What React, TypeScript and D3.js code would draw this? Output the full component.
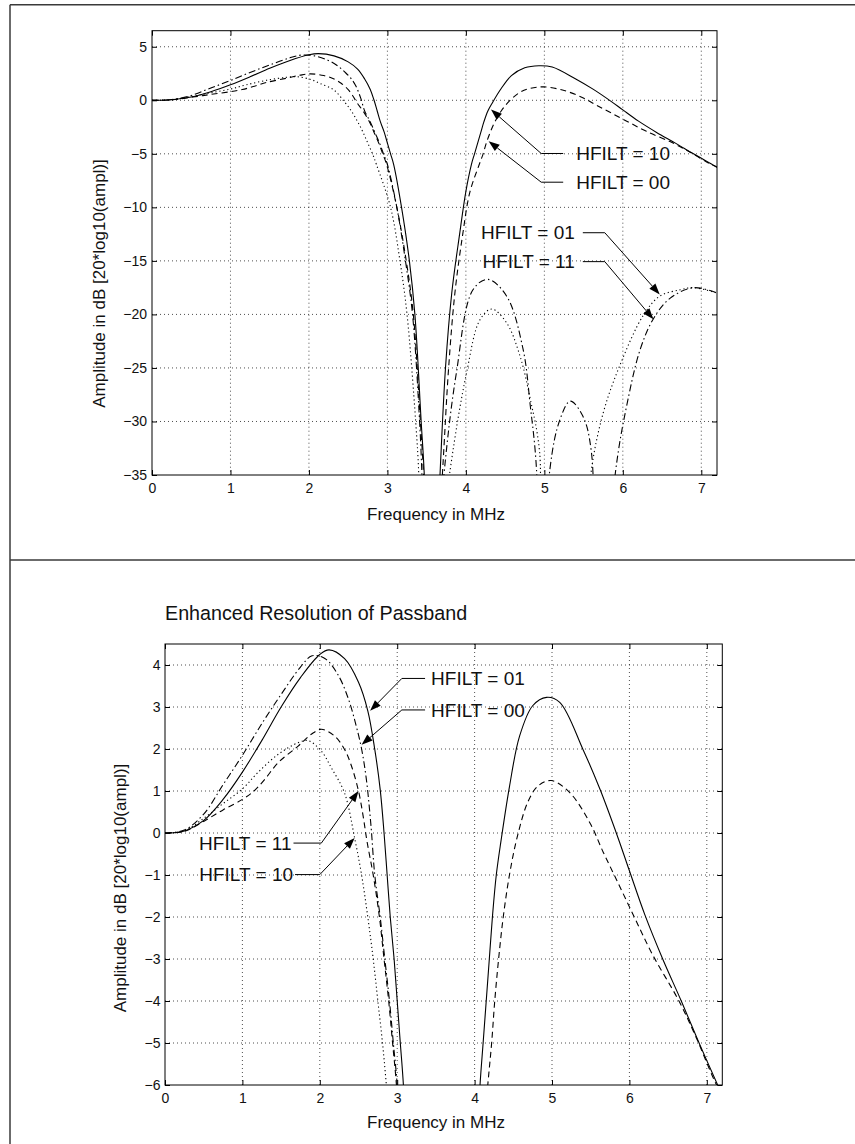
import React, { useRef, useEffect } from 'react';
import * as d3 from 'd3';

type Pt = [number, number];

const FONT = "'Liberation Sans', Arial, Helvetica, sans-serif";

// frequency ticks (MHz) and amplitude ticks (dB)
const freqTicks = [0, 1, 2, 3, 4, 5, 6, 7];
const fullDbTicks = [5, 0, -5, -10, -15, -20, -25, -30, -35];
const passDbTicks = [4, 3, 2, 1, 0, -1, -2, -3, -4, -5, -6];

// responses, [MHz, dB]; nulls run below the axes and get clipped
const solidLine: Pt[] = [
  [0, 0], [0.25, 0.05], [0.5, 0.3], [0.75, 0.8], [1.0, 1.45], [1.25, 2.2], [1.5, 3.0], [1.75, 3.7],
  [2.0, 4.25], [2.12, 4.36], [2.32, 4.15], [2.5, 3.59], [2.62, 2.91], [2.71, 1.99], [2.78, 1.04],
  [2.83, 0.0], [2.87, -1], [2.91, -2], [2.96, -3], [3.0, -4], [3.04, -5], [3.08, -6], [3.18, -10],
  [3.28, -15], [3.35, -20], [3.43, -30], [3.47, -35], [3.55, -55], [3.67, -35], [3.74, -25],
  [3.82, -18], [3.92, -12.5], [4.0, -8.5], [4.07, -6], [4.11, -5], [4.15, -4], [4.19, -3], [4.23, -2],
  [4.28, -1], [4.34, -0.2], [4.45, 1.1], [4.58, 2.3], [4.75, 3.03], [4.93, 3.23], [5.1, 3.11],
  [5.4, 1.99], [5.62, 1.04], [5.85, -0.1], [6.0, -0.9], [6.2, -1.95], [6.43, -3], [6.67, -4], [6.9, -5],
  [7.14, -6], [7.2, -6.25],
];

const dashedLine: Pt[] = [
  [0, 0], [0.25, 0.04], [0.52, 0.3], [0.75, 0.55], [1.0, 0.8], [1.15, 1.0], [1.29, 1.28], [1.46, 1.67],
  [1.72, 2.07], [1.89, 2.35], [2.02, 2.47], [2.19, 2.31], [2.32, 1.99], [2.41, 1.59], [2.5, 1.0],
  [2.56, 0.4], [2.61, -0.2], [2.69, -1], [2.77, -2], [2.83, -3], [2.89, -4], [2.94, -5], [2.99, -6],
  [3.12, -10], [3.24, -15], [3.33, -20], [3.42, -30], [3.46, -35], [3.53, -55], [3.7, -35],
  [3.78, -25], [3.86, -18], [3.96, -12.5], [4.05, -8.6], [4.17, -6], [4.22, -5], [4.26, -4], [4.31, -3],
  [4.37, -2], [4.45, -1], [4.55, -0.1], [4.69, 0.75], [4.82, 1.12], [4.99, 1.25], [5.23, 0.96],
  [5.49, 0.24], [5.66, -0.45], [5.83, -1.1], [6.05, -1.95], [6.3, -2.9], [6.64, -4], [6.87, -4.9],
  [7.1, -5.9], [7.2, -6.25],
];

const dashDotLine: Pt[] = [
  [0, 0], [0.25, 0.07], [0.5, 0.45], [0.75, 1.15], [1.0, 1.85], [1.25, 2.6], [1.5, 3.3], [1.75, 3.95],
  [1.9, 4.22], [2.07, 4.15], [2.24, 3.75], [2.37, 3.19], [2.47, 2.55], [2.54, 2.0], [2.6, 1.3],
  [2.66, 0.2], [2.71, -1], [2.78, -2], [2.84, -3], [2.9, -4], [2.95, -5], [3.0, -6], [3.12, -10],
  [3.23, -15], [3.32, -20], [3.41, -30], [3.44, -35], [3.52, -55], [3.72, -35], [3.88, -25.4],
  [4.09, -17.7], [4.28, -16.73], [4.52, -18.3], [4.73, -23.3], [4.82, -28.5], [4.9, -34.5],
  [4.95, -55], [5.07, -34.5], [5.2, -29.8], [5.33, -28.1], [5.49, -29.5], [5.6, -32.9], [5.66, -55],
  [5.91, -34.5], [6.05, -28.5], [6.22, -23.3], [6.39, -20.4], [6.6, -18.5], [6.9, -17.5], [7.2, -18.0],
];

const dottedLine: Pt[] = [
  [0, 0], [0.25, 0.05], [0.5, 0.35], [0.75, 0.7], [1.0, 1.05], [1.2, 1.44], [1.46, 1.87], [1.72, 2.15],
  [1.85, 2.2], [2.02, 1.95], [2.15, 1.55], [2.32, 0.95], [2.45, -0.12], [2.54, -1], [2.62, -2],
  [2.69, -3], [2.75, -4], [2.81, -5], [2.86, -6], [3.04, -10], [3.16, -15], [3.25, -20], [3.36, -30],
  [3.4, -35], [3.47, -55], [3.8, -34.5], [4.01, -25.4], [4.18, -20.5], [4.33, -19.5], [4.52, -20.8],
  [4.69, -23.9], [4.82, -27.9], [4.94, -32.9], [5.0, -55], [5.3, -55], [5.55, -40], [5.6, -34.5],
  [5.75, -29.2], [5.96, -24.8], [6.26, -20.1], [6.47, -18.3], [6.73, -17.7], [6.9, -17.5], [7.2, -18.0],
];

const curves = [solidLine, dashedLine, dashDotLine, dottedLine];
const curveDash = ['none', '6,4', '7,3,1.5,3', '1.2,2.8'];

// callouts: label, arrow tip, elbow, tail (data units)
const fullNotes = [
  { label: 'HFILT = 10', tip: [4.32, -0.87], elbow: [4.96, -4.97], tail: [5.24, -4.97] },
  { label: 'HFILT = 00', tip: [4.29, -3.82], elbow: [4.96, -7.65], tail: [5.24, -7.65] },
  { label: 'HFILT = 01', tip: [6.47, -18.13], elbow: [5.77, -12.37], tail: [5.49, -12.37] },
  { label: 'HFILT = 11', tip: [6.39, -20.46], elbow: [5.77, -15.07], tail: [5.49, -15.07] },
];
const passNotes = [
  { label: 'HFILT = 01', tip: [2.65, 2.91], elbow: [3.06, 3.68], tail: [3.36, 3.68] },
  { label: 'HFILT = 00', tip: [2.54, 2.1], elbow: [3.06, 2.93], tail: [3.36, 2.93] },
  { label: 'HFILT = 11', tip: [2.5, 1.0], elbow: [2.02, -0.24], tail: [1.66, -0.24] },
  { label: 'HFILT = 10', tip: [2.45, -0.12], elbow: [2.0, -0.99], tail: [1.68, -0.99] },
];

const panels = [
  {
    id: 'full', left: 152, right: 717, top: 30.7, bottom: 475, yDomain: [-35, 6.5], yTicks: fullDbTicks,
    notes: fullNotes, startGap: 13, endGap: 8, yLabelX: 105, yLabelY: 283.5, xLabelY: 520, yPad: 5,
  },
  {
    id: 'pass', left: 165, right: 722.3, top: 644, bottom: 1085, yDomain: [-6, 4.5], yTicks: passDbTicks,
    notes: passNotes, startGap: 6, endGap: 2, yLabelX: 126, yLabelY: 888, xLabelY: 1128, yPad: 4.5,
  },
];

const fmt = (d: number) => (d < 0 ? `\u2212${-d}` : `${d}`);

const App = () => {
  const ref = useRef<SVGSVGElement>(null);

  useEffect(() => {
    const svg = d3.select(ref.current);
    svg.selectAll('*').remove();

    // outer frame
    const frame = svg.append('g').attr('stroke', '#3a3a3a').attr('stroke-width', 1.5);
    frame.append('line').attr('x1', 10).attr('x2', 855).attr('y1', 4.7).attr('y2', 4.7);
    frame.append('line').attr('x1', 10).attr('x2', 10).attr('y1', 4.7).attr('y2', 1144);
    frame.append('line').attr('x1', 10).attr('x2', 855).attr('y1', 560).attr('y2', 560);

    panels.forEach((p) => {
      const x = d3.scaleLinear().domain([0, 7.2]).range([p.left, p.right]);
      const y = d3.scaleLinear().domain(p.yDomain).range([p.bottom, p.top]);
      const g = svg.append('g');

      g.append('clipPath').attr('id', `clip-${p.id}`)
        .append('rect')
        .attr('x', p.left).attr('y', p.top)
        .attr('width', p.right - p.left).attr('height', p.bottom - p.top);

      // grid
      const grid = g.append('g').attr('stroke', '#222').attr('stroke-width', 0.8).attr('stroke-dasharray', '1,3');
      grid.selectAll('.vx').data(freqTicks.filter((t) => t > 0)).join('line')
        .attr('x1', (d) => x(d)).attr('x2', (d) => x(d))
        .attr('y1', p.top).attr('y2', p.bottom);
      grid.selectAll('.hy').data(p.yTicks.filter((t) => t > p.yDomain[0])).join('line')
        .attr('x1', p.left).attr('x2', p.right)
        .attr('y1', (d) => y(d)).attr('y2', (d) => y(d));

      // axes, ticks pointing inwards
      g.append('g').attr('transform', `translate(0,${p.bottom})`)
        .call(d3.axisBottom(x).tickValues(freqTicks).tickSizeInner(-5).tickSizeOuter(0).tickPadding(8).tickFormat(fmt as any));
      g.append('g').attr('transform', `translate(0,${p.top})`)
        .call(d3.axisTop(x).tickValues(freqTicks).tickSizeInner(-5).tickSizeOuter(0).tickFormat(() => ''));
      g.append('g').attr('transform', `translate(${p.left},0)`)
        .call(d3.axisLeft(y).tickValues(p.yTicks).tickSizeInner(-5).tickSizeOuter(0).tickPadding(p.yPad).tickFormat(fmt as any));
      g.append('g').attr('transform', `translate(${p.right},0)`)
        .call(d3.axisRight(y).tickValues(p.yTicks).tickSizeInner(-5).tickSizeOuter(0).tickFormat(() => ''));
      g.selectAll('.domain').remove();
      g.selectAll('.tick line').attr('stroke', '#000');
      g.selectAll('.tick text').attr('font-family', FONT).attr('font-size', 14).attr('fill', '#111');

      g.append('rect')
        .attr('x', p.left).attr('y', p.top)
        .attr('width', p.right - p.left).attr('height', p.bottom - p.top)
        .attr('fill', 'none').attr('stroke', '#000').attr('stroke-width', 1);

      // curves
      const line = d3.line<Pt>().x((d) => x(d[0])).y((d) => y(d[1])).curve(d3.curveCatmullRom.alpha(0.5));
      const lines = g.append('g').attr('clip-path', `url(#clip-${p.id})`);
      curves.forEach((c, i) => {
        lines.append('path')
          .attr('d', line(c))
          .attr('fill', 'none')
          .attr('stroke', '#000')
          .attr('stroke-width', 1.1)
          .attr('stroke-dasharray', curveDash[i]);
      });

      // callouts
      p.notes.forEach((n) => {
        const tip = [x(n.tip[0]), y(n.tip[1])];
        const elbow = [x(n.elbow[0]), y(n.elbow[1])];
        const tail = [x(n.tail[0]), y(n.tail[1])];
        const dx = tip[0] - elbow[0];
        const dy = tip[1] - elbow[1];
        const len = Math.hypot(dx, dy);
        const ux = dx / len;
        const uy = dy / len;
        const headLen = 11;
        const headHalf = 4;
        const base = [tip[0] - ux * headLen, tip[1] - uy * headLen];

        g.append('path')
          .attr('d', d3.line()([tail as [number, number], elbow as [number, number], base as [number, number]]))
          .attr('fill', 'none').attr('stroke', '#000').attr('stroke-width', 1);
        g.append('path')
          .attr('d', `M${tip[0]},${tip[1]}L${base[0] - uy * headHalf},${base[1] + ux * headHalf}L${base[0] + uy * headHalf},${base[1] - ux * headHalf}Z`)
          .attr('fill', '#000');

        const right = tail[0] > elbow[0];
        g.append('text')
          .attr('x', right ? tail[0] + p.startGap : tail[0] - p.endGap)
          .attr('y', tail[1])
          .attr('dy', '0.35em')
          .attr('text-anchor', right ? 'start' : 'end')
          .attr('font-family', FONT).attr('font-size', 19).attr('fill', '#111')
          .text(n.label);
      });

      // axis labels
      g.append('text')
        .attr('x', 436).attr('y', p.xLabelY)
        .attr('text-anchor', 'middle')
        .attr('font-family', FONT).attr('font-size', 17).attr('fill', '#111')
        .text('Frequency in MHz');
      g.append('text')
        .attr('transform', `translate(${p.yLabelX},${p.yLabelY}) rotate(-90)`)
        .attr('text-anchor', 'middle')
        .attr('font-family', FONT).attr('font-size', 17).attr('fill', '#111')
        .text('Amplitude in dB [20*log10(ampl)]');
    });

    svg.append('text')
      .attr('x', 165).attr('y', 620)
      .attr('font-family', FONT).attr('font-size', 19.7).attr('fill', '#111')
      .text('Enhanced Resolution of Passband');

    return () => {
      d3.select(ref.current).selectAll('*').remove();
    };
  }, []);

  return (
    <svg
      ref={ref}
      width={855}
      height={1144}
      style={{ position: 'absolute', left: 0, top: 0, display: 'block', background: '#fff' }}
    />
  );
};

export default App;
